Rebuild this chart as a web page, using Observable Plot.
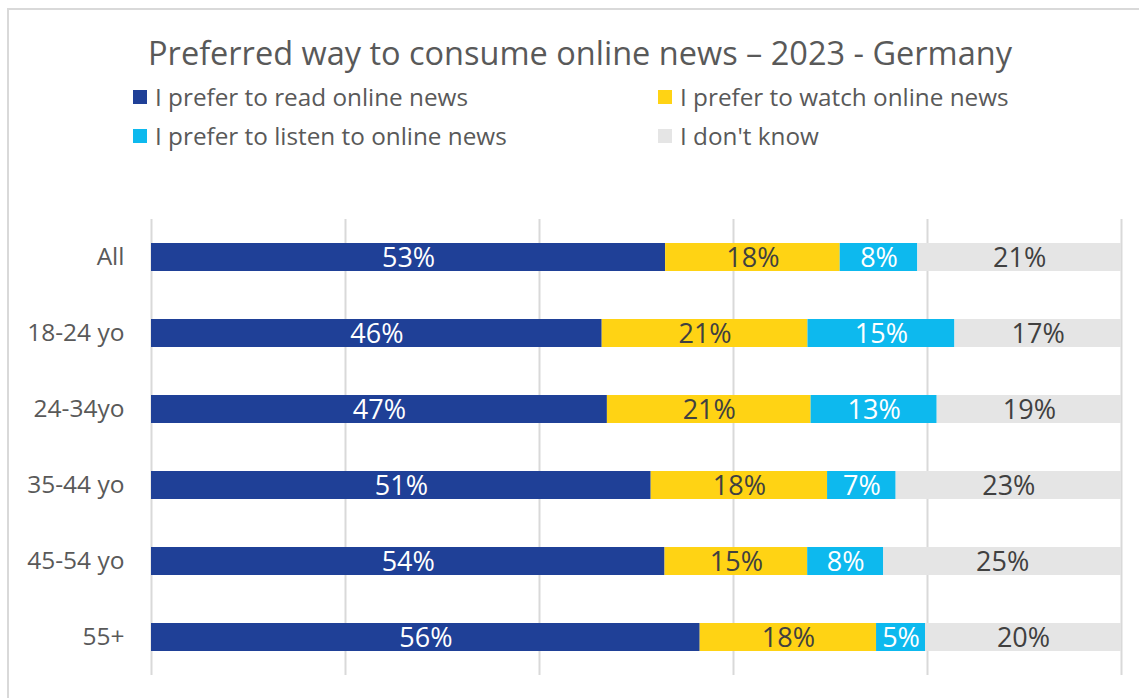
<!DOCTYPE html>
<html>
<head>
<meta charset="utf-8">
<script src="https://cdn.jsdelivr.net/npm/d3@7"></script>
<script src="https://cdn.jsdelivr.net/npm/@observablehq/plot@0.6"></script>
<style>
  html, body { margin: 0; padding: 0; background: #fff; overflow: hidden; }
  #wrap { position: relative; width: 1139px; height: 698px; font-family: "Open Sans", sans-serif; color: #595959; }
  #frame { position: absolute; left: 7px; top: 8px; width: 1140px; height: 700px; border: 2px solid #d9d9d9; box-sizing: border-box; }
  #title { position: absolute; left: 0; width: 1160px; top: 31px; text-align: center; font-size: 32.5px; line-height: 44px; color: #595959; white-space: nowrap; }
  .leg { position: absolute; display: flex; align-items: center; font-size: 24.3px; line-height: 30px; white-space: nowrap; color: #595959; }
  .sw { width: 14px; height: 14px; margin-right: 8px; display: inline-block; }
  #chart { position: absolute; left: 0; top: 0; }
</style>
</head>
<body>
<div id="wrap">
  <div id="frame"></div>
  <div id="title">Preferred way to consume online news – 2023 - Germany</div>
  <div id="legend"></div>
  <div id="chart"></div>
</div>
<script>
// ---- data ----
const groups = ["All", "18-24 yo", "24-34yo", "35-44 yo", "45-54 yo", "55+"];
const seriesNames = [
  "I prefer to read online news",
  "I prefer to watch online news",
  "I prefer to listen to online news",
  "I don't know"
];
const readValues   = [53, 46, 47, 51, 54, 56];
const watchValues  = [18, 21, 21, 18, 15, 18];
const listenValues = [8, 15, 13, 7, 8, 5];
const dontKnowValues = [21, 17, 19, 23, 25, 20];
const seriesColors = ["#1f4097", "#ffd314", "#0db9ee", "#e5e5e5"];
const whiteLabelSeries = [0, 2];
const gridTicks = [0, 0.2, 0.4, 0.6, 0.8, 1];

const valueLists = [readValues, watchValues, listenValues, dontKnowValues];
const rows = [];
seriesNames.forEach((s, si) => {
  groups.forEach((g, gi) => {
    rows.push({group: g, series: s, si, value: valueLists[si][gi]});
  });
});

// ---- legend ----
const legendPos = [
  {left: 133, top: 82}, {left: 658, top: 82},
  {left: 133, top: 121}, {left: 658, top: 121}
];
const legend = document.getElementById("legend");
seriesNames.forEach((s, i) => {
  const d = document.createElement("div");
  d.className = "leg";
  d.style.left = legendPos[i].left + "px";
  d.style.top = legendPos[i].top + "px";
  d.innerHTML = `<span class="sw" style="background:${seriesColors[i]}"></span><span></span>`;
  d.lastChild.textContent = s;
  legend.appendChild(d);
});

// ---- chart ----
const stackOpts = {x: "value", y: "group", z: "series", offset: "normalize", order: null};
const isWhite = d => whiteLabelSeries.includes(d.si);

const chart = Plot.plot({
  width: 1139,
  height: 698,
  marginTop: 219,
  marginBottom: 23,
  marginLeft: 151,
  marginRight: 18,
  style: {fontFamily: "Open Sans, sans-serif", background: "transparent", overflow: "visible"},
  x: {domain: [0, 1], axis: null},
  y: {domain: groups, paddingInner: 0.63, paddingOuter: 0.315, label: null},
  color: {domain: seriesNames, range: seriesColors},
  marks: [
    Plot.ruleX(gridTicks, {stroke: "#d9d9d9", strokeWidth: 2}),
    Plot.barX(rows, Plot.stackX({...stackOpts, fill: "series"})),
    Plot.text(rows, Plot.stackX({
      ...stackOpts,
      text: d => isWhite(d) ? d.value + "%" : "",
      fill: "#ffffff", fontSize: 27, dy: 1
    })),
    Plot.text(rows, Plot.stackX({
      ...stackOpts,
      text: d => isWhite(d) ? "" : d.value + "%",
      fill: "#404040", fontSize: 27, dy: 1
    })),
    Plot.axisY({tickSize: 0, tickPadding: 27, fontSize: 24.5, fill: "#595959", label: null})
  ]
});
document.getElementById("chart").appendChild(chart);
</script>
</body>
</html>
